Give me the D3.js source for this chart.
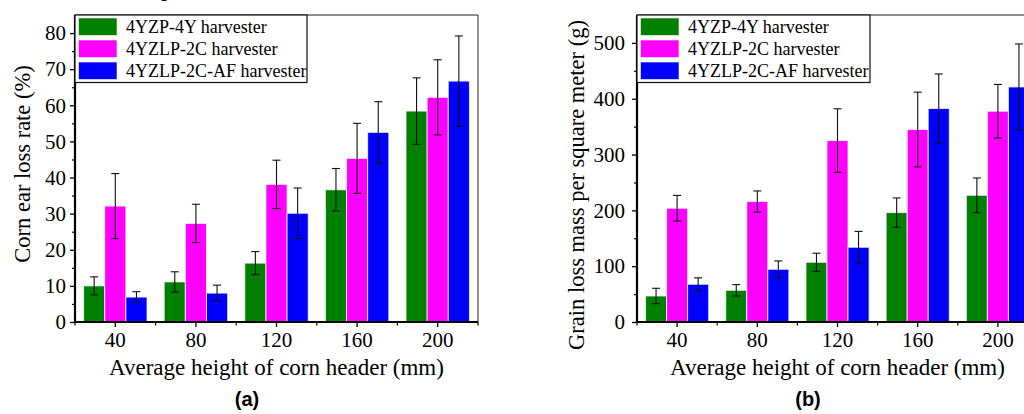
<!DOCTYPE html>
<html>
<head>
<meta charset="utf-8">
<script src="https://cdn.jsdelivr.net/npm/d3@7"></script>
<style>
  html, body { margin: 0; padding: 0; background: #fff; }
  svg { display: block; }
  text { font-family: "Liberation Serif", "Times New Roman", serif; fill: #000; }
</style>
</head>
<body>
<svg id="chart" width="1024" height="414"></svg>
<script>
// ---------- data ----------
const categories = ["40", "80", "120", "160", "200"];
const seriesNames = ["4YZP-4Y harvester", "4YZLP-2C harvester", "4YZLP-2C-AF harvester"];
const seriesColors = ["#008000", "#ff00ff", "#0000ff"];

// (a) Corn ear loss rate (%)
const earP4Y = [10.0, 11.1, 16.3, 36.6, 58.4];
const earP4YErr = [2.5, 2.8, 3.2, 5.9, 9.2];
const earP2C = [32.1, 27.3, 38.1, 45.3, 62.2];
const earP2CErr = [9.0, 5.3, 6.7, 9.7, 10.4];
const earP2CAF = [6.9, 8.0, 30.1, 52.5, 66.7];
const earP2CAFErr = [1.5, 2.2, 7.0, 8.5, 12.5];
const earTicks = [0, 10, 20, 30, 40, 50, 60, 70, 80];

// (b) Grain loss mass per square meter (g)
const grainP4Y = [46.6, 56.8, 107, 196, 227];
const grainP4YErr = [13.8, 10.2, 16.2, 26.3, 31];
const grainP2C = [203.8, 215.8, 325, 344.8, 377.6];
const grainP2CErr = [23, 19, 57, 67, 48];
const grainP2CAF = [67.6, 94.4, 133.9, 382.4, 421.1];
const grainP2CAFErr = [11.5, 15, 28.4, 62, 77];
const grainTicks = [0, 100, 200, 300, 400, 500];

const svg = d3.select("#chart");

// stray caption fragment at the very top (clipped)
svg.append("text").attr("x", 164).attr("y", -3).attr("text-anchor", "middle")
  .style("font-family", "Liberation Sans, Arial, sans-serif").style("font-size", "20px").text("g");

function panel(opt) {
  const g = svg.append("g");
  const x = d3.scaleBand().domain(categories).range([opt.x0, opt.x1]).padding(0);
  const groupW = x.step() * 0.787;
  const xs = d3.scaleBand().domain(d3.range(seriesNames.length)).range([-groupW / 2, groupW / 2]).padding(0);
  const y = d3.scaleLinear().domain([0, opt.yMax]).range([opt.yb, opt.yt]);

  // frame (top, right)
  g.append("line").attr("x1", opt.x0).attr("x2", opt.x1).attr("y1", opt.yt).attr("y2", opt.yt)
    .attr("stroke", "#222").attr("stroke-width", 1);
  g.append("line").attr("x1", opt.x1).attr("x2", opt.x1).attr("y1", opt.yt).attr("y2", opt.yb)
    .attr("stroke", "#222").attr("stroke-width", 1);

  // bars
  opt.series.forEach((s, si) => {
    g.append("g").selectAll("rect").data(s.values).join("rect")
      .attr("x", (d, i) => x(categories[i]) + x.bandwidth() / 2 + xs(si))
      .attr("y", d => y(d))
      .attr("width", xs.bandwidth())
      .attr("height", d => y(0) - y(d))
      .attr("fill", seriesColors[si])
      .attr("stroke", "#ffffff").attr("stroke-opacity", 0.75).attr("stroke-width", 1);
  });
  // error bars
  opt.series.forEach((s, si) => {
    const eg = g.append("g").attr("stroke", "#111").attr("stroke-width", 1.1).attr("fill", "none");
    s.values.forEach((v, i) => {
      const cx = x(categories[i]) + x.bandwidth() / 2 + xs(si) + xs.bandwidth() / 2;
      const lo = y(v - s.err[i]), hi = y(v + s.err[i]);
      eg.append("line").attr("x1", cx).attr("x2", cx).attr("y1", lo).attr("y2", hi);
      eg.append("line").attr("x1", cx - 4).attr("x2", cx + 4).attr("y1", lo).attr("y2", lo);
      eg.append("line").attr("x1", cx - 4).attr("x2", cx + 4).attr("y1", hi).attr("y2", hi);
    });
  });

  // y axis
  const yAxis = d3.axisLeft(y).tickValues(opt.yTicks).tickSize(5).tickPadding(opt.yPad).tickSizeOuter(0);
  const ya = g.append("g").attr("transform", `translate(${opt.x0},0)`).call(yAxis);
  ya.select(".domain").remove();
  ya.selectAll(".tick line").attr("stroke", "#000").attr("stroke-width", 1.3);
  ya.selectAll(".tick text").style("font-size", "21px").style("font-family", "Liberation Serif, serif");
  const yMinor = d3.axisLeft(y).tickValues(d3.range(opt.yMinorStep, opt.yMax, opt.yMinorStep * 2)).tickSize(3).tickFormat("");
  const ym = g.append("g").attr("transform", `translate(${opt.x0},0)`).call(yMinor);
  ym.select(".domain").remove();
  ym.selectAll(".tick line").attr("stroke", "#000").attr("stroke-width", 1.2);

  // x axis
  const xAxis = d3.axisBottom(x).tickSize(5).tickPadding(5).tickSizeOuter(0);
  const xa = g.append("g").attr("transform", `translate(0,${opt.yb})`).call(xAxis);
  xa.select(".domain").remove();
  xa.selectAll(".tick line").attr("stroke", "#000").attr("stroke-width", 1.3);
  xa.selectAll(".tick text").style("font-size", "21px").style("font-family", "Liberation Serif, serif");
  const edges = categories.map(c => x(c)).concat([opt.x1]);
  g.append("g").selectAll("line").data(edges).join("line")
    .attr("x1", d => d).attr("x2", d => d).attr("y1", opt.yb).attr("y2", opt.yb + 3.5)
    .attr("stroke", "#000").attr("stroke-width", 1.2);

  // main axis lines
  g.append("line").attr("x1", opt.x0).attr("x2", opt.x0).attr("y1", opt.yt).attr("y2", opt.yb + 1)
    .attr("stroke", "#000").attr("stroke-width", 2.2);
  g.append("line").attr("x1", opt.x0 - 1).attr("x2", opt.x1).attr("y1", opt.yb).attr("y2", opt.yb)
    .attr("stroke", "#000").attr("stroke-width", 2.2);

  // legend
  const lg = g.append("g");
  lg.append("rect").attr("x", opt.x0).attr("y", opt.yt).attr("width", opt.legW).attr("height", 67.5)
    .attr("fill", "#fff").attr("stroke", "#111").attr("stroke-width", 1.2);
  seriesNames.forEach((n, i) => {
    const cy = opt.yt + 12 + i * 22;
    lg.append("rect").attr("x", opt.x0 + 3.5).attr("y", cy - 9).attr("width", 38.5).attr("height", 17.5)
      .attr("fill", seriesColors[i]).attr("stroke", "#fff").attr("stroke-opacity", 0.6);
    lg.append("text").attr("x", opt.x0 + 51).attr("y", cy).attr("dy", "0.35em")
      .style("font-size", "18px").text(n);
  });

  // titles
  g.append("text").attr("x", (opt.x0 + opt.x1) / 2).attr("y", opt.yb + 53).attr("text-anchor", "middle")
    .style("font-size", "23px").text("Average height of corn header (mm)");
  g.append("text").attr("transform", `translate(${opt.ytx},${opt.ytc}) rotate(-90)`)
    .attr("text-anchor", "middle").attr("dy", "0.35em")
    .style("font-size", "22.5px").text(opt.yTitle);
  g.append("text").attr("x", opt.labX).attr("y", 406).attr("text-anchor", "middle")
    .style("font-family", "Liberation Sans, Arial, sans-serif").style("font-weight", "bold")
    .style("font-size", "20px").text(opt.label);
}

panel({
  x0: 75, x1: 478, yt: 15, yb: 322, yMax: 85, yTicks: earTicks, yMinorStep: 5, yPad: 4,
  series: [
    { values: earP4Y, err: earP4YErr },
    { values: earP2C, err: earP2CErr },
    { values: earP2CAF, err: earP2CAFErr }
  ],
  legW: 232, yTitle: "Corn ear loss rate (%)", ytx: 22, ytc: 164, labX: 247, label: "(a)"
});

panel({
  x0: 637, x1: 1038, yt: 15, yb: 322, yMax: 550, yTicks: grainTicks, yMinorStep: 50, yPad: 7,
  series: [
    { values: grainP4Y, err: grainP4YErr },
    { values: grainP2C, err: grainP2CErr },
    { values: grainP2CAF, err: grainP2CAFErr }
  ],
  legW: 233, yTitle: "Grain loss mass per square meter (g)", ytx: 576, ytc: 185, labX: 808, label: "(b)"
});
</script>
</body>
</html>
